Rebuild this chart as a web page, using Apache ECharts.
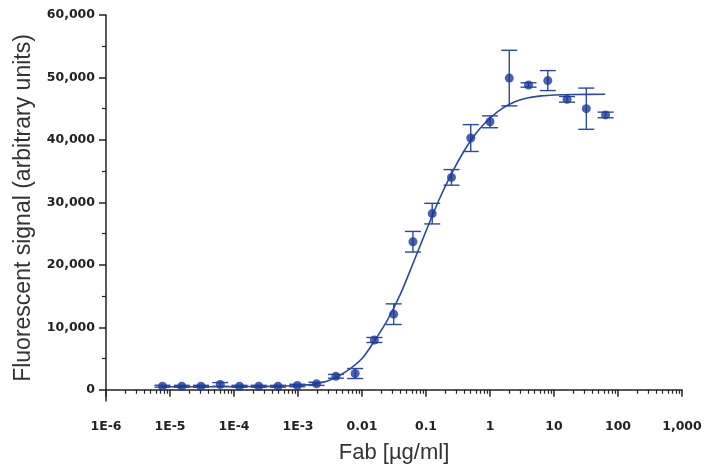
<!DOCTYPE html>
<html>
<head>
<meta charset="utf-8">
<script src="https://cdn.jsdelivr.net/npm/echarts@6/dist/echarts.min.js"></script>
<style>
html,body{margin:0;padding:0;background:#fff;}
#chart{width:707px;height:469px;}
</style>
</head>
<body>
<div id="chart"></div>
<script>
// Concentrations (µg/ml), two-fold dilution series
const concentrations = [7.63e-6, 1.53e-5, 3.05e-5, 6.1e-5, 1.22e-4, 2.44e-4, 4.88e-4, 9.77e-4,
  1.95e-3, 3.91e-3, 7.81e-3, 0.0156, 0.03125, 0.0625, 0.125, 0.25, 0.5, 1, 2, 4, 8, 16, 32, 64];
// Mean fluorescent signal
const meanSignal = [570, 560, 560, 850, 560, 560, 560, 680,
  950, 2150, 2600, 7970, 12100, 23700, 28200, 34000, 40300, 42900, 49900, 48800, 49500, 46500, 45000, 44000];
// Error (± value)
const errorSignal = [150, 150, 150, 300, 150, 150, 150, 200,
  250, 300, 800, 400, 1650, 1650, 1650, 1250, 2150, 950, 4450, 350, 1600, 450, 3300, 450];

// Fitted curve
const curveX = [7.6e-6, 1e-4, 3.16e-4, 1e-3, 1.78e-3, 3.16e-3, 5.62e-3, 0.01, 0.0158, 0.0251, 0.0398,
  0.0631, 0.1, 0.158, 0.251, 0.398, 0.631, 1, 1.58, 2.51, 3.98, 6.31, 10, 20, 63];
const curveY = [480, 500, 540, 680, 900, 1550, 2900, 5000, 7900, 11200, 15300,
  20300, 25400, 30300, 34600, 38300, 41300, 43500, 45100, 46150, 46750, 47050, 47200, 47280, 47300];

// Axis ticks
const xTickValues = [1e-6, 1e-5, 1e-4, 1e-3, 0.01, 0.1, 1, 10, 100, 1000];
const xTickLabels = ['1E-6', '1E-5', '1E-4', '1E-3', '0.01', '0.1', '1', '10', '100', '1,000'];
const yTickValues = [0, 10000, 20000, 30000, 40000, 50000, 60000];
const yTickLabels = ['0', '10,000', '20,000', '30,000', '40,000', '50,000', '60,000'];
const yMinorTickValues = [5000, 15000, 25000, 35000, 45000, 55000];
const minorMultipliers = [2, 3, 4, 5, 6, 7, 8, 9];

const xMinorTickValues = [];
for (let d = 0; d < xTickValues.length - 1; d++) {
  for (const m of minorMultipliers) xMinorTickValues.push(xTickValues[d] * m);
}

const curveData = curveX.map((x, i) => [x, curveY[i]]);
const pointData = concentrations.map((x, i) => [x, meanSignal[i]]);
const errData = concentrations.map((x, i) => [x, meanSignal[i] - errorSignal[i], meanSignal[i] + errorSignal[i]]);

const axisColor = '#222';
const lineColor = '#2a48a5';
const pointColor = '#1b3a9c';
const labelFont = {fontFamily: 'DejaVu Sans', fontWeight: 'bold', fontSize: 12.5, color: '#222'};

const chart = echarts.init(document.getElementById('chart'), null, {renderer: 'canvas'});
chart.setOption({
  animation: false,
  backgroundColor: '#fff',
  grid: {left: 106, right: 25, top: 15, bottom: 64, containLabel: false},
  xAxis: [{
    type: 'log', logBase: 10, min: 1e-6, max: 1000, position: 'bottom',
    name: 'Fab [µg/ml]', nameLocation: 'middle', nameGap: 41,
    nameTextStyle: {fontFamily: 'Liberation Sans', fontSize: 22, color: '#333'},
    axisLine: {show: true, lineStyle: {color: axisColor, width: 1.5}},
    axisTick: {show: true, customValues: xTickValues, length: 7, lineStyle: {color: axisColor, width: 1.5}},
    axisLabel: {show: true, customValues: xTickValues, margin: 19,
      formatter: function (v) {
        const i = xTickValues.findIndex(t => Math.abs(Math.log10(t) - Math.log10(v)) < 1e-6);
        return i >= 0 ? xTickLabels[i] : '';
      }, ...labelFont},
    splitLine: {show: false}
  }, {
    type: 'log', logBase: 10, min: 1e-6, max: 1000, position: 'bottom',
    axisLine: {show: false},
    axisTick: {show: true, customValues: xMinorTickValues, length: 4, lineStyle: {color: axisColor, width: 1.2}},
    axisLabel: {show: false},
    splitLine: {show: false}
  }],
  yAxis: [{
    type: 'value', min: -1800, max: 60000, position: 'left',
    name: 'Fluorescent signal (arbitrary units)', nameLocation: 'middle', nameGap: 71, nameRotate: 90,
    nameTextStyle: {fontFamily: 'Liberation Sans', fontSize: 23, color: '#333'},
    axisLine: {show: true, lineStyle: {color: axisColor, width: 1.5}},
    axisTick: {show: true, customValues: yTickValues, length: 7, lineStyle: {color: axisColor, width: 1.5}},
    axisLabel: {show: true, customValues: yTickValues, margin: 11,
      formatter: function (v) {
        const i = yTickValues.indexOf(Math.round(v));
        return i >= 0 ? yTickLabels[i] : '';
      }, ...labelFont},
    splitLine: {show: false}
  }, {
    type: 'value', min: -1800, max: 60000, position: 'left',
    axisLine: {show: false},
    axisTick: {show: true, customValues: yMinorTickValues, length: 4, lineStyle: {color: axisColor, width: 1.2}},
    axisLabel: {show: false},
    splitLine: {show: false}
  }],
  series: [{
    type: 'line', xAxisIndex: 0, yAxisIndex: 0,
    data: curveData, showSymbol: false, symbol: 'none',
    smooth: 0.3,
    lineStyle: {color: lineColor, width: 1.6}, z: 2
  }, {
    type: 'custom', xAxisIndex: 0, yAxisIndex: 0,
    data: errData, clip: false, z: 3,
    renderItem: function (params, api) {
      const x = api.value(0);
      const lo = api.coord([x, api.value(1)]);
      const hi = api.coord([x, api.value(2)]);
      const hw = 8;
      const style = {stroke: lineColor, lineWidth: 1.4};
      return {type: 'group', children: [
        {type: 'line', shape: {x1: lo[0], y1: lo[1], x2: hi[0], y2: hi[1]}, style: style},
        {type: 'line', shape: {x1: lo[0] - hw, y1: lo[1], x2: lo[0] + hw, y2: lo[1]}, style: style},
        {type: 'line', shape: {x1: hi[0] - hw, y1: hi[1], x2: hi[0] + hw, y2: hi[1]}, style: style}
      ]};
    },
    encode: {x: 0, y: [1, 2]}
  }, {
    type: 'scatter', xAxisIndex: 0, yAxisIndex: 0,
    data: pointData, symbol: 'circle', symbolSize: 9,
    itemStyle: {color: pointColor}, z: 4
  }]
});
</script>
</body>
</html>
